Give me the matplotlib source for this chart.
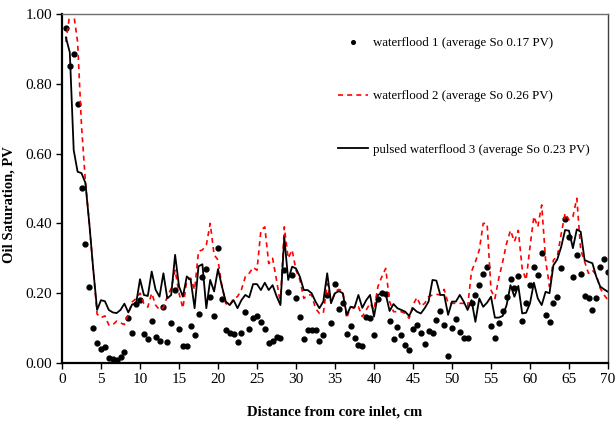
import numpy as np
import matplotlib
matplotlib.use('Agg')
import matplotlib.pyplot as plt
from matplotlib.ticker import FormatStrFormatter, MultipleLocator

plt.rcParams['font.family'] = ['Liberation Serif', 'DejaVu Serif']

# distance from core inlet, one sample every 0.5 cm
distance = np.arange(1, 141) * 0.5

# waterflood 1 (dots)
so_wf1 = [0.96, 0.85, 0.885, 0.742, 0.50, 0.34, 0.218, 0.10, 0.057, 0.04,
          0.046, 0.014, 0.012, 0.009, 0.018, 0.032, 0.13, 0.086, 0.17, 0.18,
          0.083, 0.068, 0.12, 0.075, 0.063, 0.16, 0.061, 0.114, 0.21, 0.096,
          0.049, 0.049, 0.107, 0.079, 0.14, 0.245, 0.27, 0.19, 0.136, 0.33,
          0.184, 0.095, 0.087, 0.083, 0.061, 0.085, 0.146, 0.097, 0.128, 0.135,
          0.117, 0.098, 0.058, 0.063, 0.075, 0.073, 0.266, 0.204, 0.252, 0.185,
          0.133, 0.069, 0.095, 0.095, 0.095, 0.064, 0.08, 0.195, 0.114, 0.227,
          0.154, 0.173, 0.082, 0.106, 0.071, 0.053, 0.049, 0.131, 0.128, 0.079,
          0.184, 0.20, 0.198, 0.121, 0.068, 0.104, 0.08, 0.053, 0.037, 0.098,
          0.11, 0.087, 0.054, 0.093, 0.085, 0.123, 0.149, 0.108, 0.02, 0.099,
          0.125, 0.089, 0.071, 0.071, 0.173, 0.195, 0.223, 0.255, 0.274, 0.106,
          0.072, 0.116, 0.148, 0.188, 0.242, 0.214, 0.25, 0.121, 0.171, 0.224,
          0.274, 0.253, 0.316, 0.138, 0.117, 0.171, 0.19, 0.272, 0.414, 0.36,
          0.246, 0.31, 0.254, 0.192, 0.186, 0.152, 0.186, 0.276, 0.299, 0.262]

# waterflood 2 (red dashed)
so_wf2 = [0.92, 1.0, 1.0, 0.92, 0.68, 0.52, 0.40, 0.27, 0.14, 0.13,
          0.135, 0.109, 0.109, 0.12, 0.115, 0.11, 0.14, 0.175, 0.185, 0.20,
          0.17, 0.16, 0.20, 0.166, 0.152, 0.16, 0.19, 0.214, 0.266, 0.20,
          0.157, 0.238, 0.243, 0.21, 0.32, 0.324, 0.338, 0.40, 0.31, 0.295,
          0.22, 0.17, 0.166, 0.185, 0.19, 0.21, 0.247, 0.257, 0.274, 0.266,
          0.38, 0.39, 0.285, 0.30, 0.238, 0.171, 0.39, 0.30, 0.324, 0.266,
          0.238, 0.185, 0.195, 0.195, 0.157, 0.142, 0.142, 0.228, 0.171, 0.205,
          0.211, 0.206, 0.128, 0.161, 0.156, 0.161, 0.133, 0.152, 0.171, 0.152,
          0.219, 0.247, 0.271, 0.176, 0.147, 0.147, 0.147, 0.142, 0.128, 0.166,
          0.188, 0.163, 0.171, 0.19, 0.195, 0.197, 0.195, 0.211, 0.171, 0.171,
          0.171, 0.171, 0.171, 0.161, 0.262, 0.29, 0.324, 0.40, 0.40, 0.209,
          0.185, 0.243, 0.29, 0.343, 0.38, 0.348, 0.38, 0.27, 0.238, 0.333,
          0.42, 0.39, 0.453, 0.295, 0.219, 0.295, 0.305, 0.37, 0.429, 0.41,
          0.419, 0.472, 0.324, 0.29, 0.257, 0.266, 0.252, 0.214, 0.195, 0.18]

# pulsed waterflood 3 (black solid)
so_wf3 = [0.933, 0.89, 0.61, 0.548, 0.544, 0.516, 0.40, 0.27, 0.152, 0.18,
          0.177, 0.152, 0.145, 0.143, 0.152, 0.17, 0.145, 0.168, 0.17, 0.24,
          0.195, 0.192, 0.262, 0.21, 0.19, 0.257, 0.185, 0.195, 0.31, 0.22,
          0.19, 0.248, 0.238, 0.157, 0.277, 0.283, 0.157, 0.238, 0.205, 0.269,
          0.22, 0.176, 0.166, 0.18, 0.157, 0.18, 0.195, 0.188, 0.226, 0.226,
          0.209, 0.23, 0.209, 0.223, 0.192, 0.166, 0.36, 0.238, 0.276, 0.271,
          0.247, 0.209, 0.209, 0.20, 0.176, 0.157, 0.176, 0.257, 0.172, 0.20,
          0.206, 0.20, 0.138, 0.161, 0.159, 0.195, 0.158, 0.18, 0.195, 0.133,
          0.195, 0.20, 0.198, 0.149, 0.169, 0.157, 0.152, 0.147, 0.135, 0.157,
          0.147, 0.142, 0.157, 0.176, 0.238, 0.236, 0.195, 0.195, 0.138, 0.176,
          0.176, 0.195, 0.176, 0.152, 0.18, 0.118, 0.185, 0.161, 0.173, 0.19,
          0.13, 0.13, 0.135, 0.166, 0.223, 0.19, 0.221, 0.142, 0.144, 0.171,
          0.23, 0.185, 0.166, 0.204, 0.2, 0.28, 0.297, 0.333, 0.381, 0.379,
          0.329, 0.383, 0.376, 0.295, 0.29, 0.286, 0.247, 0.219, 0.211, 0.204]

labels = ['waterflood 1 (average So 0.17 PV)',
          'waterflood 2 (average So 0.26 PV)',
          'pulsed waterflood 3 (average So 0.23 PV)']

fig = plt.figure(figsize=(6.16, 4.23), dpi=100)
ax = fig.add_axes([62 / 616, 1 - 363 / 423, 546 / 616, 349 / 423])

ax.plot(distance, so_wf1, 'o', color='black', markersize=3.5, label=labels[0])
ax.plot(distance, so_wf2, color='red', lw=1.2, dashes=(3, 2.5), label=labels[1])
ax.plot(distance, so_wf3, color='black', lw=1.3, label=labels[2])

ax.set_xlim(0, 70)
ax.set_ylim(0, 1.0)
ax.xaxis.set_major_locator(MultipleLocator(5))
ax.yaxis.set_major_locator(MultipleLocator(0.2))
ax.yaxis.set_major_formatter(FormatStrFormatter('%.2f'))
ax.tick_params(direction='out', length=4, width=1, labelsize=11, pad=3)

ax.spines['left'].set_linewidth(1.6)
ax.spines['bottom'].set_linewidth(1.6)
ax.spines['top'].set_color('#707070')
ax.spines['right'].set_color('#404040')
ax.spines['top'].set_linewidth(1.0)
ax.spines['right'].set_linewidth(1.0)

ax.set_xlabel('Distance from core inlet, cm', fontsize=10.5, fontweight='bold', labelpad=14)
ax.set_ylabel('Oil Saturation, PV', fontsize=10.5, fontweight='bold')
ax.yaxis.set_label_coords(-0.085, 0.455)

ax.legend(loc='upper left', bbox_to_anchor=(338 / 616, 1 - 37 / 423),
          bbox_transform=fig.transFigure, frameon=False, fontsize=9.3,
          labelspacing=3.2, handlelength=2.3, handletextpad=0.4,
          borderpad=0, borderaxespad=0, markerscale=0.75)

fig.savefig('out.png', dpi=100)
